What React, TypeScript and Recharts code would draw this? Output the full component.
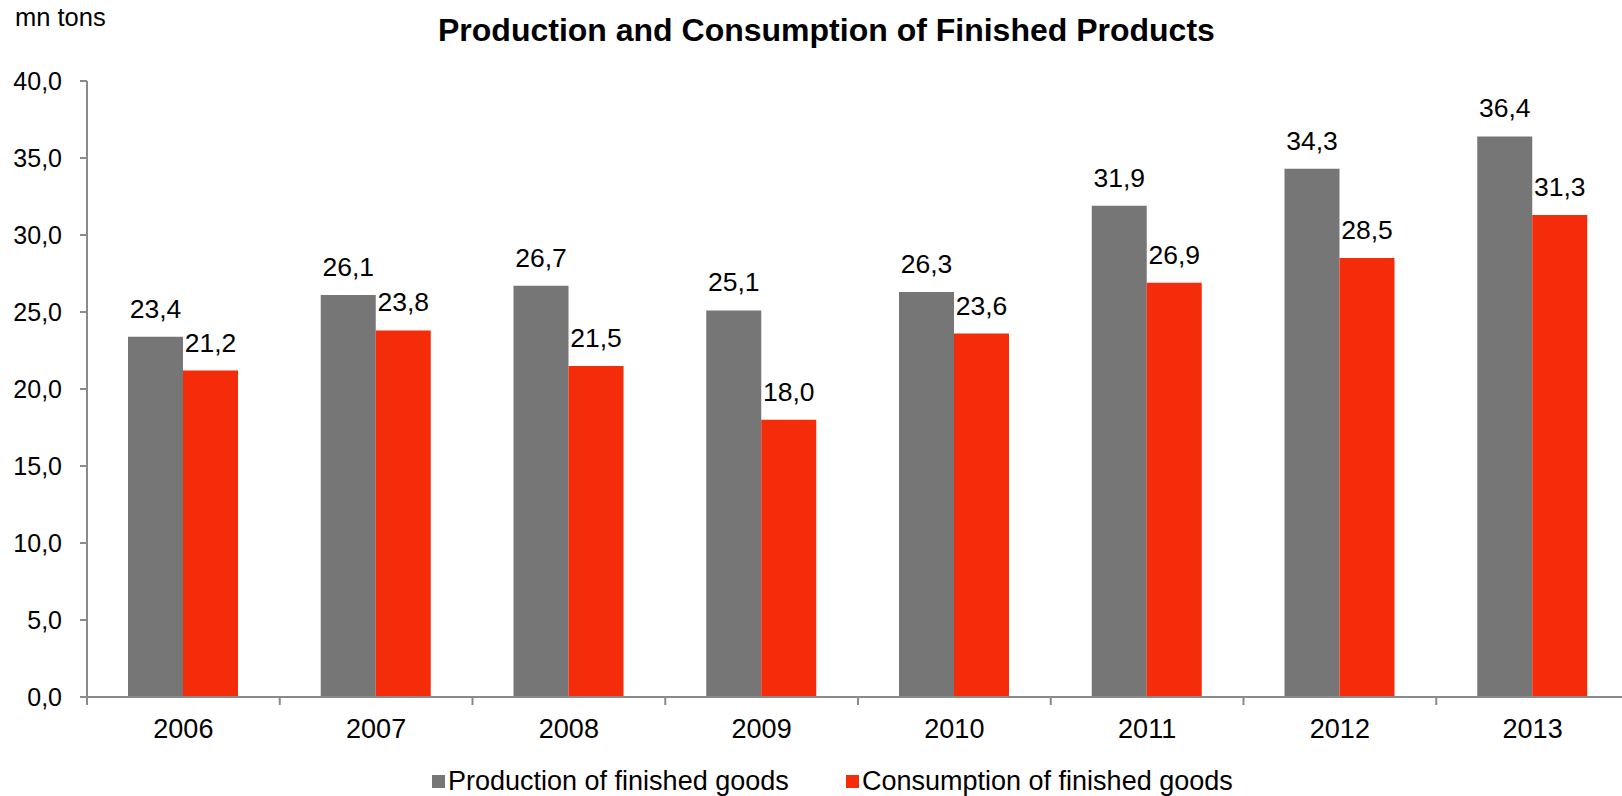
import { BarChart, Bar, XAxis, YAxis, LabelList } from "recharts";

const years = ["2006", "2007", "2008", "2009", "2010", "2011", "2012", "2013"];
const production = [23.4, 26.1, 26.7, 25.1, 26.3, 31.9, 34.3, 36.4];
const consumption = [21.2, 23.8, 21.5, 18.0, 23.6, 26.9, 28.5, 31.3];
const yTicks = [0, 5, 10, 15, 20, 25, 30, 35, 40];

const data = years.map((year, i) => ({
  year,
  production: production[i],
  consumption: consumption[i],
}));

const GRAY = "#767676";
const RED = "#F52C0A";
const AXIS = "#8a8a8a";
const X_TICK_MARGIN = 22;

const fmt = (v: any) => Number(v).toFixed(1).replace(".", ",");

// year label plus the small tick mark on the left edge of its band
const YearTick = (props: any) => {
  const { x, y, payload } = props;
  const axisY = y - X_TICK_MARGIN;
  const edge = x - (payload.offset || 0);
  return (
    <g>
      <line x1={edge} x2={edge} y1={axisY} y2={axisY + 8} stroke={AXIS} strokeWidth={2} />
      <text x={x} y={y} dy="0.71em" textAnchor="middle" fill="#000" fontSize={27}>
        {payload.value}
      </text>
    </g>
  );
};

export default function App() {
  return (
    <div
      style={{
        position: "relative",
        width: 1622,
        height: 796,
        overflow: "hidden",
        fontFamily: "'Liberation Sans', Arial, sans-serif",
        color: "#000",
        background: "#fff",
      }}
    >
      <style>{`body{margin:0}`}</style>
      <BarChart
        width={1640}
        height={796}
        data={data}
        margin={{ top: 81, right: 11, left: 0, bottom: 0 }}
        barGap={0}
      >
        <XAxis
          dataKey="year"
          height={99}
          tickSize={0}
          tickMargin={X_TICK_MARGIN}
          tickLine={false}
          axisLine={{ stroke: AXIS, strokeWidth: 2 }}
          tick={<YearTick />}
          interval={0}
        />
        <YAxis
          width={87}
          domain={[0, 40]}
          ticks={yTicks}
          tickFormatter={fmt}
          tickSize={7}
          tickMargin={18}
          tickLine={{ stroke: AXIS, strokeWidth: 2 }}
          axisLine={{ stroke: AXIS, strokeWidth: 2 }}
          tick={{ fill: "#000", fontSize: 25 }}
          interval={0}
        />
        <Bar dataKey="production" fill={GRAY} barSize={55} isAnimationActive={false}>
          <LabelList dataKey="production" position="top" offset={19} formatter={fmt} fill="#000" fontSize={26.5} />
        </Bar>
        <Bar dataKey="consumption" fill={RED} barSize={55} isAnimationActive={false}>
          <LabelList dataKey="consumption" position="top" offset={19} formatter={fmt} fill="#000" fontSize={26.5} />
        </Bar>
      </BarChart>

      <div style={{ position: "absolute", left: 15, top: 1, fontSize: 25.5, lineHeight: "32px" }}>mn tons</div>
      <div
        style={{
          position: "absolute",
          left: 438,
          top: 11,
          fontSize: 32,
          fontWeight: "bold",
          lineHeight: "38px",
          whiteSpace: "nowrap",
        }}
      >
        Production and Consumption of Finished Products
      </div>

      <div style={{ position: "absolute", left: 432, top: 764, display: "flex", alignItems: "center", fontSize: 27, lineHeight: "34px", whiteSpace: "nowrap" }}>
        <span style={{ display: "inline-block", width: 13, height: 13, background: GRAY, marginRight: 3 }} />
        <span>Production of finished goods</span>
      </div>
      <div style={{ position: "absolute", left: 846, top: 764, display: "flex", alignItems: "center", fontSize: 27, lineHeight: "34px", whiteSpace: "nowrap" }}>
        <span style={{ display: "inline-block", width: 13, height: 13, background: RED, marginRight: 3 }} />
        <span>Consumption of finished goods</span>
      </div>
    </div>
  );
}
